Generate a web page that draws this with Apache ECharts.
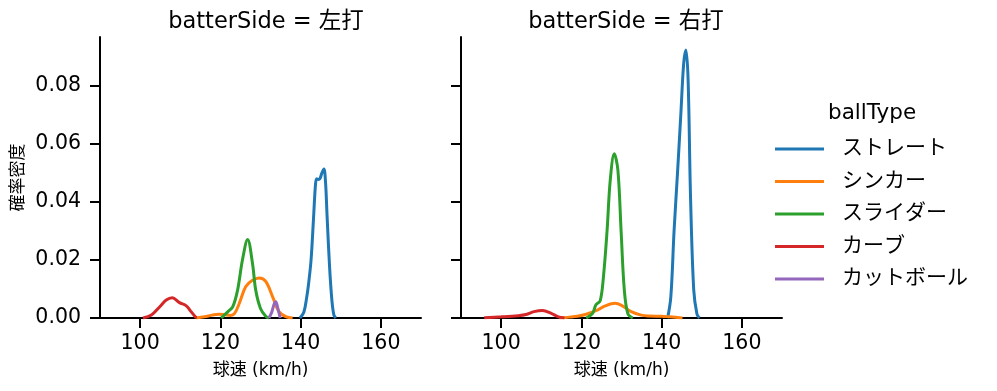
<!DOCTYPE html>
<html><head><meta charset="utf-8">
<script src="https://cdn.jsdelivr.net/npm/echarts@6/dist/echarts.min.js"></script>
<style>html,body{margin:0;padding:0;background:#fff}#c{width:997px;height:391px}</style>
</head><body><div id="c"></div>
<script>
const ballTypes = ['ストレート','シンカー','スライダー','カーブ','カットボール'];
const colors = ['#1f77b4','#ff7f0e','#2ca02c','#d62728','#9467bd'];
const panelTitles = ['batterSide = 左打','batterSide = 右打'];
const xTicks = [100,120,140,160];
const yTicks = [0,0.02,0.04,0.06,0.08];

// 左打
const L_straight_x = [139.8,140.8,141.5,142.0,142.6,143.2,143.7,144.0,144.4,144.8,145.3,145.8,146.2,146.6,147.2,147.8,148.3,148.8];
const L_straight_y = [0,0.002,0.007,0.012,0.020,0.034,0.046,0.048,0.0478,0.048,0.050,0.0514,0.047,0.035,0.018,0.006,0.001,0];
const L_sinker_x = [114,116,118,119.5,121,122.5,123.5,124.7,126.3,128,129.7,131.3,133,134.6,136.3,138];
const L_sinker_y = [0,0.0004,0.0010,0.0013,0.0012,0.0009,0.0015,0.005,0.0108,0.013,0.0138,0.0126,0.0074,0.0022,0.0005,0];
const L_slider_x = [120.2,121.9,123.1,124.3,125.5,126.8,128.0,128.8,130.0,131.3,132.1];
const L_slider_y = [0,0.0022,0.0039,0.0097,0.020,0.0271,0.0189,0.0097,0.0033,0.0006,0];
const L_curve_x = [100.7,102.8,104.9,106.5,108.0,109.8,111.5,112.7,114.0];
const L_curve_y = [0,0.001,0.0039,0.0062,0.0070,0.0053,0.0042,0.0022,0];
const L_cutter_x = [132.1,132.8,133.4,133.8,134.3,134.9];
const L_cutter_y = [0,0.002,0.0048,0.0056,0.0035,0];

// 右打
const R_straight_x = [141.5,142.3,143.1,144.0,144.8,145.5,146.06,146.6,147.2,148.0,148.8,149.4];
const R_straight_y = [0,0.0074,0.030,0.051,0.0706,0.0878,0.0924,0.082,0.042,0.0097,0.0014,0];
const R_sinker_x = [114.5,117,119,121,124.1,125.8,128.4,130.2,132.4,134.9,137,140,142,144,145.2];
const R_sinker_y = [0,0.0003,0.0006,0.0012,0.0028,0.0041,0.0051,0.0042,0.0022,0.001,0.0007,0.0006,0.0004,0.0002,0];
const R_slider_x = [121.2,122.8,123.6,124.7,125.5,126.4,127.2,128.2,129.1,129.9,130.7,131.6,132.8];
const R_slider_y = [0,0.0016,0.0045,0.006,0.0142,0.030,0.0476,0.0566,0.051,0.030,0.0097,0.0014,0];
const R_curve_x = [95.8,100,104.2,106.2,108.2,110.3,112.5,114.1,115.8];
const R_curve_y = [0.0001,0.0004,0.0008,0.0012,0.0022,0.0026,0.0016,0.0005,0];
const R_cutter_x = [];
const R_cutter_y = [];

const panels = [
  [[L_straight_x,L_straight_y],[L_sinker_x,L_sinker_y],[L_slider_x,L_slider_y],[L_curve_x,L_curve_y],[L_cutter_x,L_cutter_y]],
  [[R_straight_x,R_straight_y],[R_sinker_x,R_sinker_y],[R_slider_x,R_slider_y],[R_curve_x,R_curve_y],[R_cutter_x,R_cutter_y]]
];

const FONT = '"DejaVu Sans", "Noto Sans CJK JP", sans-serif';
const gridLefts = [100, 461];
const grids = gridLefts.map(l => ({left:l, top:37, width:321, height:281}));

const axisLineStyle = {show:true, lineStyle:{color:'#000', width:2}};
const xAxes = [0,1].map(i => ({
  type:'value', gridIndex:i, min:90, max:170,
  axisLine: axisLineStyle,
  axisTick:{show:true, length:10, lineStyle:{color:'#000',width:2}, customValues:xTicks},
  axisLabel:{color:'#000', fontSize:20.5, fontFamily:FONT, margin:15, customValues:xTicks},
  splitLine:{show:false},
  name:'球速 (km/h)', nameLocation:'middle', nameGap:44,
  nameTextStyle:{color:'#000', fontSize:17, fontFamily:FONT}
}));
const yAxes = [0,1].map(i => ({
  type:'value', gridIndex:i, min:0, max:0.0969,
  axisLine: axisLineStyle,
  axisTick:{show:true, length:10, lineStyle:{color:'#000',width:2}, customValues:yTicks},
  axisLabel:{show:i===0, color:'#000', fontSize:20.5, fontFamily:FONT, margin:19, customValues:yTicks,
    formatter: v => v.toFixed(2)},
  splitLine:{show:false},
  name: i===0 ? '確率密度' : '', nameLocation:'middle', nameGap:73, nameRotate:90,
  nameTextStyle:{color:'#000', fontSize:17, fontFamily:FONT}
}));

const series = [];
panels.forEach((p, pi) => {
  p.forEach((d, si) => {
    series.push({
      type:'line', name:ballTypes[si], xAxisIndex:pi, yAxisIndex:pi,
      data: d[0].map((x, k) => [x, d[1][k]]),
      smooth:0.35, showSymbol:false, symbol:'none',
      lineStyle:{color:colors[si], width:3}, itemStyle:{color:colors[si]},
      z: 2 + si
    });
  });
});

const chart = echarts.init(document.getElementById('c'), null, {renderer:'canvas'});
chart.setOption({
  animation:false,
  backgroundColor:'#fff',
  color: colors,
  title: [
    {text:panelTitles[0], left:261, top:6, textAlign:'center', textStyle:{color:'#000', fontSize:22.5, fontWeight:'normal', fontFamily:FONT}},
    {text:panelTitles[1], left:621, top:6, textAlign:'center', textStyle:{color:'#000', fontSize:22.5, fontWeight:'normal', fontFamily:FONT}},
    {text:'ballType', left:823, top:98, textStyle:{color:'#000', fontSize:21.5, fontWeight:'normal', fontFamily:FONT}}
  ],
  legend:{
    orient:'vertical', left:770, top:133,
    data: ballTypes, icon:'rect', itemWidth:49, itemHeight:3, itemGap:10.5,
    textStyle:{color:'#000', fontSize:21, fontFamily:FONT, lineHeight:22, padding:[0,0,0,13]}
  },
  grid: grids,
  xAxis: xAxes,
  yAxis: yAxes,
  series: series
});
</script></body></html>
